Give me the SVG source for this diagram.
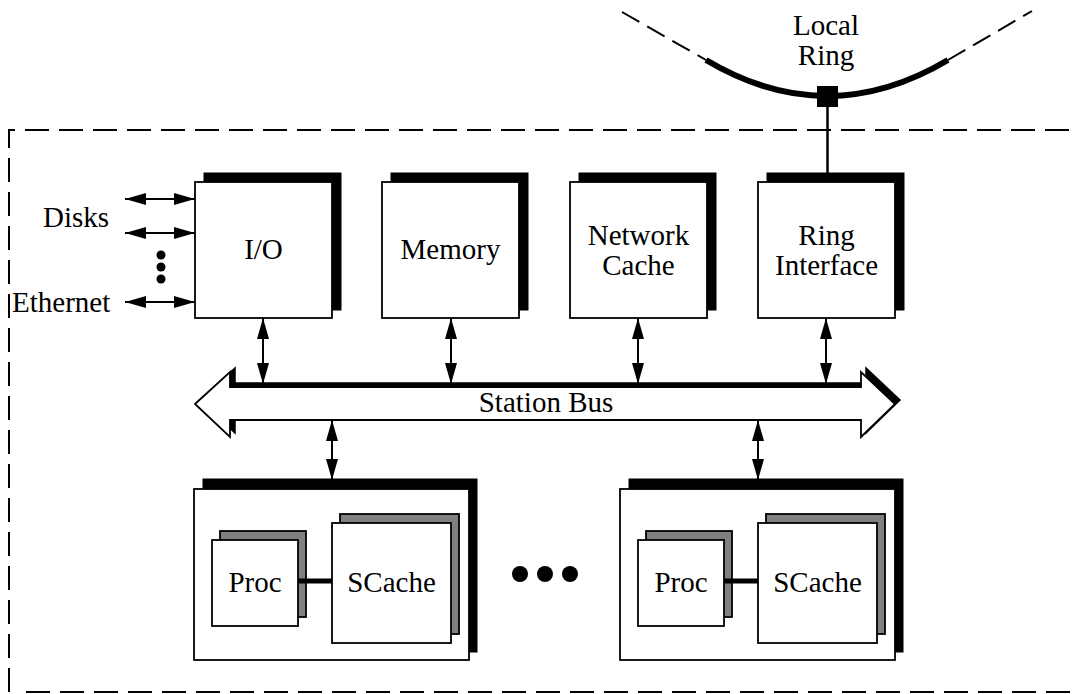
<svg xmlns="http://www.w3.org/2000/svg" width="1075" height="694" viewBox="0 0 1075 694">
<style>
  .t { font-family: "Liberation Serif", "Times New Roman", serif; font-size: 29px; fill: #000; text-anchor: middle; }
  .front { fill: #fff; stroke: #000; stroke-width: 1.8; }
  .shadow { fill: #000; stroke: #000; stroke-width: 1; }
  .gray { fill: #808080; stroke: #000; stroke-width: 1.8; }
  .arrow { stroke: #000; stroke-width: 2; fill: none; marker-start: url(#ah); marker-end: url(#ah); }
  .dash { fill: none; stroke: #000; stroke-width: 2; stroke-dasharray: 24 10; }
</style>
<defs>
  <marker id="ah" viewBox="0 0 21 12" refX="21" refY="6" markerWidth="21" markerHeight="12" markerUnits="userSpaceOnUse" orient="auto-start-reverse">
    <path d="M0,0 L21,6 L0,12 Z" fill="#000"/>
  </marker>
</defs>
<rect width="1075" height="694" fill="#fff"/>

<!-- station boundary -->
<g id="station">
  <path class="dash" d="M9,692 L9,130 L1080,130"/>
  <path class="dash" d="M26,692 L1080,692"/>
</g>

<!-- local ring -->
<g id="local-ring">
  <path d="M622,12 L706,60" fill="none" stroke="#000" stroke-width="2" stroke-dasharray="20 9"/>
  <path d="M948,60 L1032,11" fill="none" stroke="#000" stroke-width="2" stroke-dasharray="20 9"/>
  <path d="M706,60 Q827,132 948,60" fill="none" stroke="#000" stroke-width="6"/>
  <rect x="817" y="86" width="21" height="21" fill="#000"/>
  <text class="t" x="826" y="35">Local</text>
  <text class="t" x="826" y="65">Ring</text>
</g>

<!-- top modules -->
<g id="io">
  <rect class="shadow" x="204" y="173" width="137" height="137"/>
  <rect class="front" x="195" y="182" width="137" height="136"/>
  <text class="t" x="263.5" y="259">I/O</text>
</g>
<g id="memory">
  <rect class="shadow" x="391" y="173" width="137" height="137"/>
  <rect class="front" x="382" y="182" width="137" height="136"/>
  <text class="t" x="450.5" y="259">Memory</text>
</g>
<g id="network-cache">
  <rect class="shadow" x="579" y="173" width="137" height="137"/>
  <rect class="front" x="570" y="182" width="137" height="136"/>
  <text class="t" x="638.5" y="245">Network</text>
  <text class="t" x="638.5" y="275">Cache</text>
</g>
<g id="ring-interface">
  <rect class="shadow" x="767" y="173" width="137" height="137"/>
  <rect class="front" x="758" y="182" width="137" height="136"/>
  <text class="t" x="826.5" y="245">Ring</text>
  <text class="t" x="826.5" y="275">Interface</text>
</g>

<!-- station bus -->
<g id="station-bus">
  <path transform="translate(5,-4)" d="M195,404 L230,372 L230,387 L861,387 L861,372 L895,404 L861,437 L861,420 L230,420 L230,437 Z" fill="#000" stroke="#000" stroke-width="1.5"/>
  <path d="M195,404 L230,372 L230,387 L861,387 L861,372 L895,404 L861,437 L861,420 L230,420 L230,437 Z" fill="#fff" stroke="#000" stroke-width="1.8" stroke-linejoin="miter"/>
  <text class="t" x="546" y="412">Station Bus</text>
</g>

<!-- processor clusters -->
<g id="cluster-1">
  <rect class="shadow" x="203" y="479" width="274" height="173"/>
  <rect class="front" x="194" y="489" width="275" height="171"/>
  <rect class="gray" x="220" y="531" width="86" height="86"/>
  <rect class="front" x="212" y="540" width="86" height="86"/>
  <rect class="gray" x="340" y="514" width="119" height="120"/>
  <rect class="front" x="332" y="523" width="119" height="120"/>
  <line x1="298" y1="581" x2="332" y2="581" stroke="#000" stroke-width="5"/>
  <text class="t" x="255" y="592">Proc</text>
  <text class="t" x="391.5" y="592">SCache</text>
</g>
<g id="cluster-2" transform="translate(426,0)">
  <rect class="shadow" x="203" y="479" width="274" height="173"/>
  <rect class="front" x="194" y="489" width="275" height="171"/>
  <rect class="gray" x="220" y="531" width="86" height="86"/>
  <rect class="front" x="212" y="540" width="86" height="86"/>
  <rect class="gray" x="340" y="514" width="119" height="120"/>
  <rect class="front" x="332" y="523" width="119" height="120"/>
  <line x1="298" y1="581" x2="332" y2="581" stroke="#000" stroke-width="5"/>
  <text class="t" x="255" y="592">Proc</text>
  <text class="t" x="391.5" y="592">SCache</text>
</g>
<g id="cluster-ellipsis">
  <circle cx="520" cy="574" r="8"/>
  <circle cx="545" cy="574" r="8"/>
  <circle cx="570" cy="574" r="8"/>
</g>

<!-- io links -->
<g id="io-links">
  <text class="t" x="43" y="227" style="text-anchor:start">Disks</text>
  <text class="t" x="12" y="312" style="text-anchor:start">Ethernet</text>
  <circle cx="161" cy="255" r="4.5"/>
  <circle cx="161" cy="267" r="4.5"/>
  <circle cx="161" cy="279" r="4.5"/>
</g>

<!-- connectors -->
<g id="connectors">
  <line class="arrow" x1="125" y1="199" x2="195" y2="199"/>
  <line class="arrow" x1="125" y1="233" x2="195" y2="233"/>
  <line class="arrow" x1="125" y1="302" x2="195" y2="302"/>
  <line class="arrow" x1="263" y1="318" x2="263" y2="384"/>
  <line class="arrow" x1="451" y1="318" x2="451" y2="384"/>
  <line class="arrow" x1="638" y1="318" x2="638" y2="384"/>
  <line class="arrow" x1="826" y1="318" x2="826" y2="384"/>
  <line class="arrow" x1="332" y1="420" x2="332" y2="480"/>
  <line class="arrow" x1="758" y1="420" x2="758" y2="480"/>
  <line x1="827.5" y1="107" x2="827.5" y2="173" stroke="#000" stroke-width="2.5"/>
</g>
</svg>
